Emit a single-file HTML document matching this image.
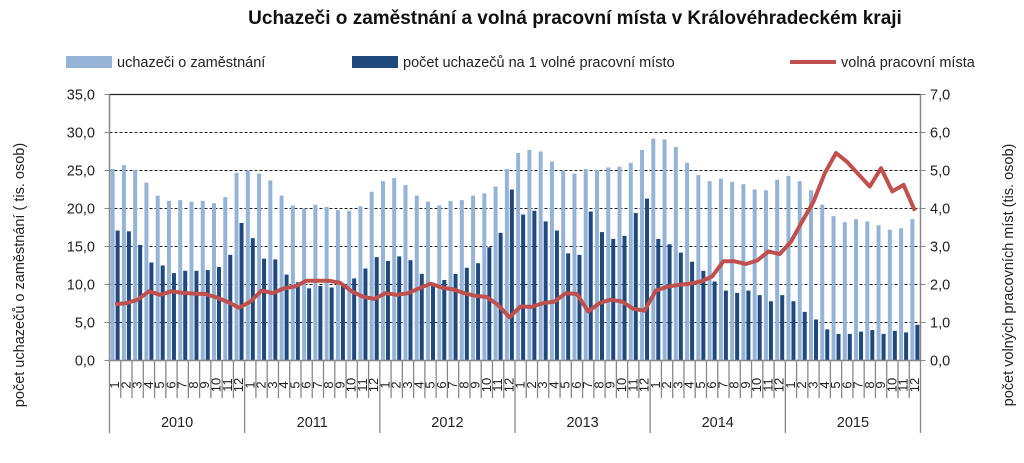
<!DOCTYPE html>
<html><head><meta charset="utf-8"><style>
body{margin:0;background:#fff;width:1024px;height:458px;overflow:hidden}
svg text{font-family:"Liberation Sans",Arial,sans-serif}
</style></head><body>
<svg id="c" width="1024" height="458" xmlns="http://www.w3.org/2000/svg">
<text x="575" y="24" text-anchor="middle" font-size="19" font-weight="bold" fill="#111">Uchazeči o zaměstnání a volná pracovní místa v Královéhradeckém kraji</text>
<g>
<rect x="66" y="56" width="46" height="12" fill="#95b3d7"/>
<text x="117" y="67" font-size="14.5" fill="#222">uchazeči o zaměstnání</text>
<rect x="352" y="56" width="46" height="12" fill="#1f497d"/>
<text x="403" y="67" font-size="14.5" fill="#222">počet uchazečů na 1 volné pracovní místo</text>
<line x1="790" y1="62" x2="836" y2="62" stroke="#c0504d" stroke-width="4"/>
<text x="841" y="67" font-size="14.5" fill="#222">volná pracovní místa</text>
</g>
<text transform="translate(24,275) rotate(-90)" text-anchor="middle" font-size="14.5" fill="#222">počet uchazečů o zaměstnání ( tis. osob)</text>
<text transform="translate(1013,275) rotate(-90)" text-anchor="middle" font-size="14.5" fill="#222">počet volných pracovních míst (tis. osob)</text>
</svg>
<script>
const leftTicks=["0,0","5,0","10,0","15,0","20,0","25,0","30,0","35,0"];
const rightTicks=["0,0","1,0","2,0","3,0","4,0","5,0","6,0","7,0"];
const years=["2010","2011","2012","2013","2014","2015"];
const months=["1","2","3","4","5","6","7","8","9","10","11","12"];
const applicants=[25.2,25.7,25.1,23.4,21.7,21.0,21.1,20.9,21.0,20.7,21.5,24.7,
25.0,24.6,23.7,21.7,20.4,20.0,20.5,20.2,19.8,19.7,20.3,22.2,
23.6,24.0,23.1,21.7,20.9,20.4,21.0,21.1,21.7,22.0,22.9,25.2,
27.3,27.7,27.5,26.2,25.0,24.6,25.2,25.1,25.4,25.5,26.0,27.7,
29.2,29.1,28.1,26.0,24.4,23.6,23.9,23.5,23.2,22.5,22.4,23.8,
24.3,23.6,22.4,20.5,19.0,18.2,18.6,18.3,17.8,17.2,17.4,18.6];
const ratio=[17.1,17.0,15.2,12.9,12.5,11.5,11.8,11.8,11.9,12.3,13.9,18.1,
16.1,13.4,13.3,11.3,10.3,9.5,9.8,9.6,9.8,10.8,12.1,13.6,
13.1,13.7,13.2,11.4,10.0,10.6,11.4,12.2,12.8,14.9,16.8,22.5,
19.2,19.7,18.3,17.1,14.1,13.9,19.6,16.9,16.0,16.4,19.4,21.3,
16.0,15.3,14.2,13.0,11.8,10.4,9.2,8.9,9.2,8.6,7.8,8.6,
7.8,6.4,5.4,4.1,3.5,3.5,3.8,4.0,3.5,3.9,3.7,4.7];
const vacancies=[1.48,1.51,1.60,1.82,1.73,1.82,1.78,1.76,1.75,1.66,1.54,1.39,
1.55,1.84,1.77,1.90,1.95,2.10,2.10,2.10,2.04,1.82,1.68,1.62,
1.77,1.73,1.77,1.90,2.02,1.92,1.87,1.77,1.70,1.67,1.46,1.14,
1.42,1.41,1.51,1.55,1.77,1.75,1.29,1.51,1.60,1.55,1.36,1.31,
1.84,1.94,1.99,2.02,2.08,2.21,2.61,2.61,2.54,2.63,2.87,2.80,
3.13,3.66,4.18,4.93,5.46,5.22,4.90,4.58,5.06,4.45,4.62,3.94];
const NS="http://www.w3.org/2000/svg";
const svg=document.getElementById('c');
const X0=109.5,X1=920.5,Y0=360.5,YT=94.5;
const n=applicants.length, step=(X1-X0)/n;
const yL=v=>Y0-(v/35)*(Y0-YT);
const yR=v=>Y0-(v/7)*(Y0-YT);
const xC=i=>X0+step*(i+0.5);
function mk(t,a){const e=document.createElementNS(NS,t);for(const k in a)e.setAttribute(k,a[k]);svg.appendChild(e);return e;}
leftTicks.forEach((t,i)=>{
 const y=yL(i*5);
 if(i>0&&i<7){const g=mk('line',{x1:X0,x2:X1,y1:y,y2:y,stroke:'#222','stroke-width':1,'stroke-dasharray':'3,2'});
 
 }
 const l=mk('text',{x:95,y:y+5,'text-anchor':'end','font-size':14.5,fill:'#222'});l.textContent=t;
 
 
 const tk=mk('line',{x1:X0-5,x2:X0,y1:y,y2:y,stroke:'#888'});
 
 
});
rightTicks.forEach((t,i)=>{
 const y=yR(i);
 const l=mk('text',{x:930,y:y+5,'font-size':14.5,fill:'#222'});l.textContent=t;
 
 
 const tk=mk('line',{x1:X1,x2:X1+5,y1:y,y2:y,stroke:'#888'});
 
 
});
const topBorder=mk('line',{x1:X0,x2:X1,y1:YT,y2:YT,stroke:'#222','stroke-width':1.2});


const bw=4;
for(let i=0;i<n;i++){
 const a=mk('rect',{x:xC(i)-bw-0.5,y:yL(applicants[i]),width:bw,height:Y0-yL(applicants[i]),fill:'#95b3d7'});
 
 
 const r=mk('rect',{x:xC(i)+0.5,y:yL(ratio[i]),width:bw,height:Y0-yL(ratio[i]),fill:'#1f497d'});
 
 
}
const pts=vacancies.map((v,i)=>xC(i).toFixed(1)+','+yR(v).toFixed(1)).join(' ');
const pl=mk('polyline',{points:pts,fill:'none',stroke:'#c0504d','stroke-width':4,'stroke-linejoin':'round'});


const la=mk('line',{x1:X0,x2:X0,y1:YT,y2:Y0,stroke:'#888','stroke-width':1.5});


const ra=mk('line',{x1:X1,x2:X1,y1:YT,y2:Y0,stroke:'#888','stroke-width':1.5});


const xa=mk('line',{x1:X0,x2:X1,y1:Y0,y2:Y0,stroke:'#888','stroke-width':1.5});


for(let i=0;i<=n;i++){
 const x=X0+step*i, yr=(i%12===0);
 const t=mk('line',{x1:x,x2:x,y1:Y0,y2:yr?433:398,stroke:'#888','stroke-width':1.3});
 
 
}
for(let i=0;i<n;i++){
 const m=mk('text',{transform:`translate(${xC(i)+4},385) rotate(-90)`,'text-anchor':'middle','font-size':13,fill:'#222'});
 m.textContent=months[i%12];
 
 
}
years.forEach((y,k)=>{
 const t=mk('text',{x:X0+step*(12*k+6),y:427,'text-anchor':'middle','font-size':14.5,fill:'#222'});t.textContent=y;
 
 
});
</script>
</body></html>
